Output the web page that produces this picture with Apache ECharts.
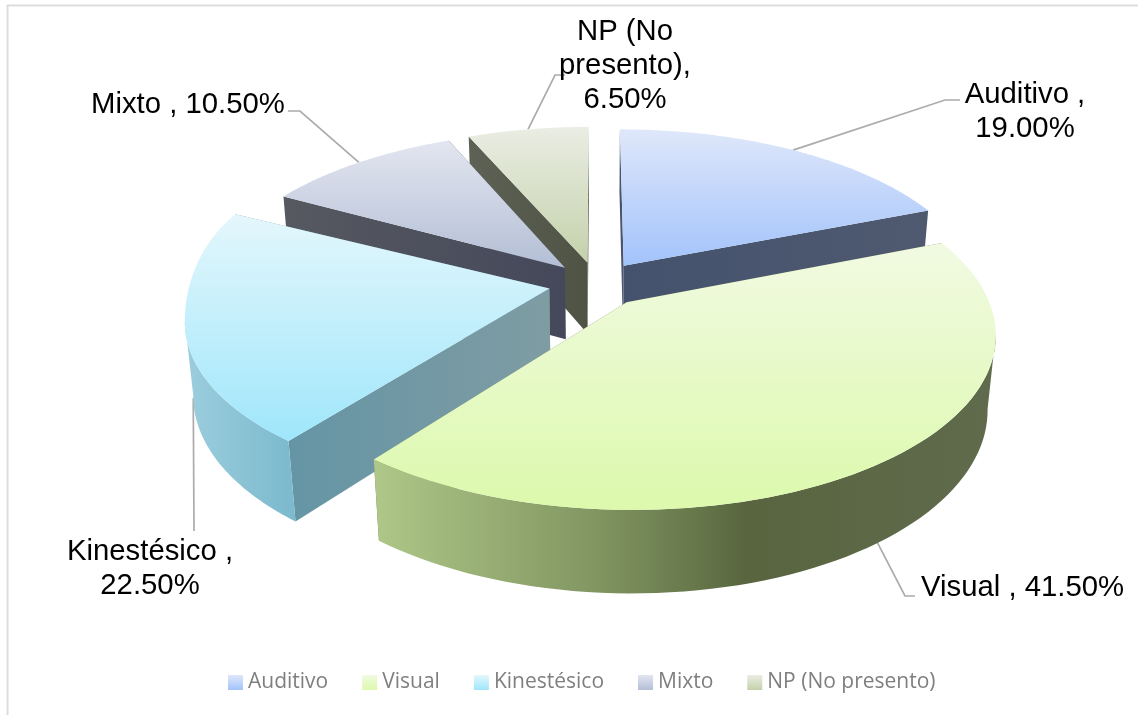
<!DOCTYPE html>
<html><head><meta charset="utf-8">
<style>html,body{margin:0;padding:0;background:#fff}#c{width:1138px;height:715px}</style>
<script src="https://cdn.jsdelivr.net/npm/echarts@6/dist/echarts.min.js"></script></head>
<body><div id="c"></div>
<script>
// ---- data ----
const categories = ['Auditivo','Visual','Kinestésico','Mixto','NP (No presento)'];
const values = [19.0, 41.5, 22.5, 10.5, 6.5];
// ---- label text layout (line breaks) ----
const labelLines = [
  ['Auditivo ,','{v}'],
  ['Visual , {v}'],
  ['Kinestésico ,','{v}'],
  ['Mixto , {v}'],
  ['NP (No','presento),','{v}']
];
// ---- layout ----
const P = {x0:597,y0:284,A:356,B:165.3,k:0.17,D:74,m:0.02,explode:0.136};
const radius = [1,1,1,1,1];
const backFlare = [0,0,0.3,0,0];
const drawZ = [1,5,4,3,2];
const labelPos = [[1025,78,'center'],[921,571,'left'],[150,535,'center'],[91,88,'left'],[625,15,'center']];
const leaderElbow = [[[945,100],[960,100]],[[905,596],[915,596]],[[194,531]],[[300,111],[288,111]],[[555,75],[565,75]]];
const leaderLevel = [0,1,1,0,0];
// ---- colours ----
const topCols = [['#DFE7FA','#A2C3FB'],['#F1FAE2','#DCF9AC'],['#E4F7FC','#9FE6FB'],['#E3E6F0','#B3BED5'],['#EAEDE3','#C4D1AB']];
const radialCols = [['#45526D','#4F5A70'],['#6B7A52','#6B7A52'],['#6595A5','#7F9CA3'],['#565960','#45485A'],['#5E6256','#4F5344']];
const outerCols = [
  [[0,'#55607A'],[1,'#55607A']],
  [[0,'#AFC788'],[0.35,'#829762'],[0.52,'#66774A'],[0.6,'#58653F'],[1,'#606B4D']],
  [[0,'#9CCEDD'],[1,'#7BB9CD']],
  [[0,'#55585F'],[1,'#55585F']],
  [[0,'#5E6256'],[1,'#5E6256']]
];

const total = values.reduce((a,b)=>a+b,0);
function proj(u,v,z){
  const w = 1+P.k*v+P.m*z;
  return [P.x0+P.A*u/w, P.y0+(-P.B*v+P.D*z)/w];
}
function grad(a,b,horizontal){
  return new echarts.graphic.LinearGradient(0,0,horizontal?1:0,horizontal?0:1,[{offset:0,color:a},{offset:1,color:b}]);
}
function gradStops(stops){
  return new echarts.graphic.LinearGradient(0,0,1,0,stops.map(s=>({offset:s[0],color:s[1]})));
}
function extremeIndex(arc,sign){
  let best=0;
  arc.forEach((p,idx)=>{ if(sign*p[0]>sign*arc[best][0]) best=idx; });
  return best;
}
function sliceRender(i){
  return function(params,api){
    let start=0; for(let j=0;j<i;j++) start+=values[j];
    const a0=start/total*2*Math.PI, a1=(start+api.value(0))/total*2*Math.PI, mid=(a0+a1)/2;
    const ou=P.explode*Math.sin(mid), ov=P.explode*Math.cos(mid), r=radius[i];
    const flare=t=>{const c=Math.max(Math.cos(t)+0.2,0)/1.2; return 1+backFlare[i]*c*c;};
    const pt=(t,z,rr)=>proj(ou+rr*Math.sin(t)*flare(t),ov+rr*Math.cos(t),z);
    const n=80, topArc=[], botArc=[];
    let hasFront=false;
    for(let s=0;s<=n;s++){
      const t=a0+(a1-a0)*s/n;
      topArc.push(pt(t,0,r)); botArc.push(pt(t,1,r));
      if(Math.cos(t)<0) hasFront=true;
    }
    const c0=pt(0,0,0), c1=pt(0,1,0);
    const children=[];
    const edge=(t)=>[c0,pt(t,0,r),pt(t,1,r),c1];
    const fillRad=grad(radialCols[i][0],radialCols[i][1],true);
    // the radial wall that faces the viewer goes last
    const walls=[a0,a1].sort((p,q)=>Math.cos(q)-Math.cos(p));
    walls.forEach(t=>children.push({type:'polygon',shape:{points:edge(t)},style:{fill:fillRad}}));
    if(hasFront){
      let sT=0,sB=0,eT=n,eB=n;
      const maxT=extremeIndex(topArc,1), minT=extremeIndex(topArc,-1);
      if(maxT>0&&maxT<n){sT=maxT;sB=extremeIndex(botArc,1);}
      if(minT>0&&minT<n){eT=minT;eB=extremeIndex(botArc,-1);}
      const band=topArc.slice(sT,eT+1).concat(botArc.slice(sB,eB+1).reverse());
      children.push({type:'polygon',shape:{points:band},style:{fill:gradStops(outerCols[i])}});
    }
    children.push({type:'polygon',shape:{points:[c0].concat(topArc)},style:{fill:grad(topCols[i][0],topCols[i][1],false)}});
    // leader
    const lm=pt(mid,leaderLevel[i],r);
    children.push({type:'polyline',z2:-1,shape:{points:[lm].concat(leaderElbow[i])},style:{stroke:'#ABABAB',lineWidth:1.7,fill:null}});
    // label
    const pct=api.value(0).toFixed(2)+'%';
    children.push({type:'text',x:labelPos[i][0],y:labelPos[i][1],style:{
      text:labelLines[i].map(l=>l.replace('{v}',pct)).join('\n'),
      fill:'#000',font:'29.3px "Liberation Sans", Arial, sans-serif',lineHeight:34,
      align:labelPos[i][2],verticalAlign:'top'
    }});
    return {type:'group',children};
  };
}
const chart=echarts.init(document.getElementById('c'),null,{renderer:'canvas'});
chart.setOption({
  animation:false,
  backgroundColor:'#fff',
  graphic:[
    {type:'line',shape:{x1:7,y1:5.5,x2:1138,y2:5.5},style:{stroke:'#DDDDDD',lineWidth:2},silent:true},
    {type:'line',shape:{x1:7.5,y1:5,x2:7.5,y2:715},style:{stroke:'#DDDDDD',lineWidth:2},silent:true}
  ],
  legend:{
    data:categories, left:228, top:672, padding:0, itemWidth:15, itemHeight:15, itemGap:34, icon:'rect',
    textStyle:{color:'#7F7F7F',fontFamily:'"Open Sans", sans-serif',fontSize:21},
    selectedMode:false
  },
  series:categories.map((name,i)=>({
    type:'custom',name,coordinateSystem:'none',z:drawZ[i],silent:true,
    itemStyle:{color:new echarts.graphic.LinearGradient(0,0,0,1,[{offset:0,color:topCols[i][0]},{offset:1,color:topCols[i][1]}])},
    renderItem:sliceRender(i),
    data:[[values[i]]]
  }))
});
</script></body></html>
